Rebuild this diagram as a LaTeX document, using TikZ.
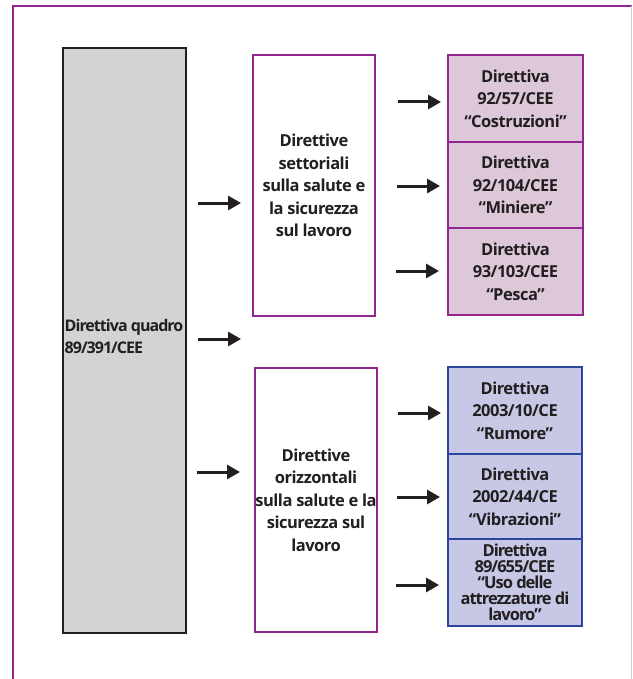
\documentclass[tikz,border=0pt]{standalone}
\usepackage{fontspec}
\setmainfont{Open Sans}
\usetikzlibrary{arrows.meta}
\definecolor{frame}{HTML}{93278F}
\definecolor{framelight}{HTML}{DCC0DC}
\definecolor{pinkfill}{HTML}{DDC8DA}
\definecolor{bluefill}{HTML}{C6C8E6}
\definecolor{blueline}{HTML}{2C46A0}
\definecolor{grayfill}{HTML}{D1D3D4}
\definecolor{darkline}{HTML}{231F20}
\tikzset{
  txt/.style={font=\fontsize{16.5}{22.5}\selectfont\bfseries\addfontfeatures{LetterSpace=-3}, text=darkline, align=center},
  graybox/.style={draw=darkline, line width=2pt, fill=grayfill, minimum width=123pt, minimum height=585pt, inner sep=0pt},
  groupbox/.style={draw=frame, line width=2pt, fill=white, minimum width=122pt, inner sep=0pt, txt},
  pinkbox/.style={draw=frame, line width=2.2pt, fill=pinkfill, minimum width=135pt, minimum height=86.5pt, inner sep=0pt, txt},
  bluebox/.style={draw=blueline, line width=2.2pt, fill=bluefill, minimum width=134pt, minimum height=86.5pt, inner sep=0pt, txt},
  arr/.style={line width=3pt, darkline, -{Triangle[length=13pt,width=14pt]}}
}
\begin{document}
\begin{tikzpicture}[x=1pt,y=-1pt]
\useasboundingbox (0,0) rectangle (632,679);
% frame
\draw[frame, line width=2.2pt] (13,690) -- (13,6) -- (632,6);
\draw[framelight, line width=1pt] (631.5,6) -- (631.5,690);
% main box
\node[graybox] (quadro) at (124.5,340.5) {};
\node[txt, anchor=west, align=left, inner sep=0pt, font=\fontsize{16}{22}\selectfont\bfseries\addfontfeatures{LetterSpace=-6}] (quadrotxt) at (64.5,336) {Direttiva quadro\\89/391/CEE};
% group boxes
\node[groupbox, minimum height=261pt] (sett) at (314,185.5) {Direttive\\settoriali\\sulla salute e\\la sicurezza\\sul lavoro};
\node[groupbox, minimum height=264pt] (orizz) at (316,500) {Direttive\\orizzontali\\sulla salute e la\\sicurezza sul\\lavoro};
% pink boxes
\node[pinkbox] (p1) at (515.5,98.5) {Direttiva\\92/57/CEE\\“Costruzioni”};
\node[pinkbox] (p2) at (515.5,185) {Direttiva\\92/104/CEE\\“Miniere”};
\node[pinkbox] (p3) at (515.5,271.5) {Direttiva\\93/103/CEE\\“Pesca”};
% blue boxes
\node[bluebox] (b1) at (515,410.5) {Direttiva\\2003/10/CE\\“Rumore”};
\node[bluebox, minimum height=85pt] (b2) at (515,496.5) {Direttiva\\2002/44/CE\\“Vibrazioni”};
\node[bluebox, minimum height=87pt, font=\fontsize{16.5}{16}\selectfont\bfseries\addfontfeatures{LetterSpace=-6}] (b3) at (515,582.5) {Direttiva\\89/655/CEE\\“Uso delle\\attrezzature di\\lavoro”};
% arrow coordinates
\coordinate (a1s) at (198,203); \coordinate (a1e) at (241,203);
\coordinate (a2s) at (198,339); \coordinate (a2e) at (241,339);
\coordinate (a3s) at (197,472); \coordinate (a3e) at (240,472);
\coordinate (s1s) at (398,102); \coordinate (s1e) at (441,102);
\coordinate (s2s) at (397,186); \coordinate (s2e) at (440,186);
\coordinate (s3s) at (396,271); \coordinate (s3e) at (439,271);
\coordinate (o1s) at (398,413); \coordinate (o1e) at (441,413);
\coordinate (o2s) at (397,497); \coordinate (o2e) at (440,497);
\coordinate (o3s) at (396,585); \coordinate (o3e) at (439,585);
\draw[arr] (a1s) -- (a1e);
\draw[arr] (a2s) -- (a2e);
\draw[arr] (a3s) -- (a3e);
\draw[arr] (s1s) -- (s1e);
\draw[arr] (s2s) -- (s2e);
\draw[arr] (s3s) -- (s3e);
\draw[arr] (o1s) -- (o1e);
\draw[arr] (o2s) -- (o2e);
\draw[arr] (o3s) -- (o3e);
\end{tikzpicture}
\end{document}
